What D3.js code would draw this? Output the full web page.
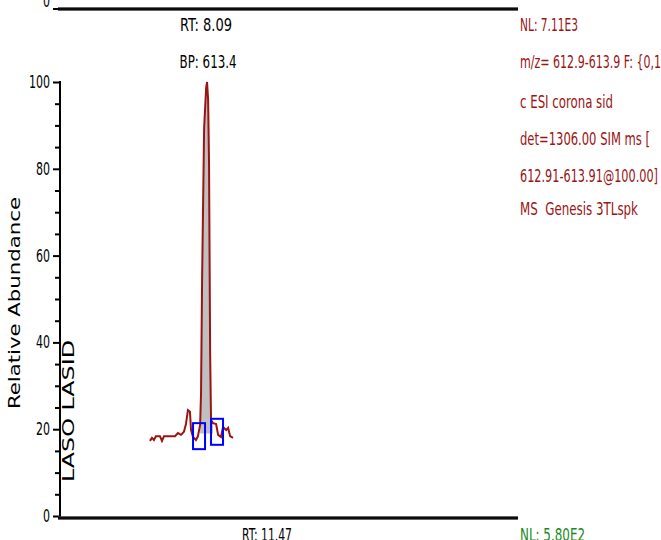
<!DOCTYPE html>
<html>
<head>
<meta charset="utf-8">
<script src="https://cdn.jsdelivr.net/npm/d3@7"></script>
<style>
  body { margin: 0; background: #fff; }
  text { font-family: "Liberation Sans Narrow", "Arial Narrow", "DejaVu Sans Condensed", sans-serif; white-space: pre; }
</style>
</head>
<body>
<div id="chart"></div>
<script>
// SIM trace, retention time in minutes and relative abundance in %
const rtMinutes = [4.95, 5.06, 5.17, 5.28, 5.50, 5.61, 5.72, 6.33, 6.49, 6.66, 6.82, 6.93, 7.04, 7.15, 7.21, 7.32, 7.48, 7.59,
                   7.71, 7.76, 7.82, 7.93, 8.04, 8.09, 8.15, 8.20, 8.26, 8.31, 8.42, 8.59, 8.70, 8.86, 8.97, 9.14, 9.25, 9.36, 9.52];
const abundance = [17.3, 18.0, 17.5, 18.4, 18.4, 17.3, 18.4, 18.4, 19.1, 18.7, 19.4, 21.2, 24.4, 24.0, 19.8, 18.2, 17.5, 18.4,
                   21.0, 28.3, 55.1, 89.4, 98.6, 100, 95.9, 81.3, 37.8, 22.1, 21.4, 21.2, 18.7, 18.2, 20.5, 19.8, 20.3, 18.4, 18.0];

// integrated peak
const peakRT = 8.09;
const peakBP = 613.4;
const peakArea = [7.62, 8.42];       // shaded range
const markerRT = [7.65, 8.64];       // start / end markers
const markerLevel = [18.4, 19.4];

const yTicks = [0, 20, 40, 60, 80, 100];
const yMinorTicks = d3.range(0, 101, 5);

const headerLines = ["NL: 7.11E3", "m/z= 612.9-613.9 F: {0,1", "c ESI corona sid",
                     "det=1306.00 SIM ms [", "612.91-613.91@100.00]", "MS  Genesis 3TLspk"];
const nextPanelRT = "RT: 11.47";
const nextPanelNL = "NL: 5.80E2";

const W = 661, H = 540;
const padL = 60, padR = 518, yBottom = 516, yTop = 82;
const red = "#9a1414";

const svg = d3.select("#chart").append("svg")
    .attr("width", W)
    .attr("height", H);

svg.append("rect").attr("width", W).attr("height", H).attr("fill", "#fff");

const x = d3.scaleLinear().domain([0, 25.2]).range([padL, padR]);
const y = d3.scaleLinear().domain([0, 100]).range([yBottom, yTop]);

const pts = rtMinutes.map((t, i) => ({ t: t, v: abundance[i] }));

// grey fill under the integrated peak
const areaPts = pts.filter(d => d.t >= peakArea[0] && d.t <= peakArea[1]);
svg.append("path")
    .datum(areaPts)
    .attr("fill", "#c0c0c0")
    .attr("d", d3.area().x(d => x(d.t)).y0(y(19)).y1(d => y(d.v)));

// trace
svg.append("path")
    .datum(pts)
    .attr("fill", "none")
    .attr("stroke", red)
    .attr("stroke-width", 2)
    .attr("d", d3.line().x(d => x(d.t)).y(d => y(d.v)));

// peak start / end markers
svg.selectAll("rect.marker")
    .data(markerRT)
    .enter()
    .append("rect")
    .attr("class", "marker")
    .attr("x", d => x(d) - 6)
    .attr("y", (d, i) => y(markerLevel[i]) - 13)
    .attr("width", 12)
    .attr("height", 26)
    .attr("fill", "none")
    .attr("stroke", "#0000ff")
    .attr("stroke-width", 2);

// y axis
const yAxis = d3.axisLeft(y).tickValues(yTicks).tickSize(7).tickPadding(3);
svg.append("g")
    .attr("transform", `translate(${padL},0)`)
    .call(yAxis)
    .call(g => g.select(".domain").remove())
    .call(g => g.selectAll("line").attr("stroke", "#000").attr("stroke-width", 2))
    .call(g => g.selectAll("text").attr("font-size", 17).attr("fill", "#000")
        .attr("textLength", d => String(d).length * 7)
        .attr("lengthAdjust", "spacingAndGlyphs"));

svg.append("g")
    .attr("transform", `translate(${padL},0)`)
    .call(d3.axisLeft(y).tickValues(yMinorTicks.filter(v => v % 20)).tickSize(5).tickFormat(""))
    .call(g => g.select(".domain").remove())
    .call(g => g.selectAll("line").attr("stroke", "#000").attr("stroke-width", 2));

svg.append("line")
    .attr("x1", padL).attr("x2", padL)
    .attr("y1", yTop - 1).attr("y2", yBottom + 2)
    .attr("stroke", "#000").attr("stroke-width", 2);

// bottom axis line and the previous panel's axis at the top
[yBottom + 2, 9].forEach(yy => {
    svg.append("line")
        .attr("x1", padL - 2).attr("x2", padR)
        .attr("y1", yy).attr("y2", yy)
        .attr("stroke", "#333").attr("stroke-width", 3.5);
    svg.append("line")
        .attr("x1", padL - 2).attr("x2", padR)
        .attr("y1", yy).attr("y2", yy)
        .attr("stroke", "#000").attr("stroke-width", 1.5);
});
svg.append("line")
    .attr("x1", padL - 7).attr("x2", padL)
    .attr("y1", 9).attr("y2", 9)
    .attr("stroke", "#000").attr("stroke-width", 2);
svg.append("text")
    .attr("x", 50).attr("y", 7)
    .attr("text-anchor", "end")
    .attr("font-size", 17)
    .attr("textLength", 7)
    .attr("lengthAdjust", "spacingAndGlyphs")
    .text("0");

// y label
svg.append("text")
    .attr("transform", "translate(20,303) rotate(-90)")
    .attr("text-anchor", "middle")
    .attr("font-size", 16)
    .attr("textLength", 212)
    .attr("lengthAdjust", "spacingAndGlyphs")
    .text("Relative Abundance");

svg.append("text")
    .attr("transform", "translate(74,482) rotate(-90)")
    .attr("font-size", 16)
    .attr("textLength", 142)
    .attr("lengthAdjust", "spacingAndGlyphs")
    .text("LASO LASID");

// peak annotation
svg.append("text")
    .attr("x", x(peakRT) - 1).attr("y", 31)
    .attr("text-anchor", "middle")
    .attr("font-size", 17)
    .attr("textLength", 52)
    .attr("lengthAdjust", "spacingAndGlyphs")
    .text("RT: " + peakRT.toFixed(2));
svg.append("text")
    .attr("x", x(peakRT) + 1).attr("y", 68)
    .attr("text-anchor", "middle")
    .attr("font-size", 17)
    .attr("textLength", 57)
    .attr("lengthAdjust", "spacingAndGlyphs")
    .text("BP: " + peakBP.toFixed(1));

// header on the right
const headerY = [31, 68, 108, 145, 182, 215];
const headerW = [58, 141, 93, 130, 138, 118];
svg.selectAll("text.header")
    .data(headerLines)
    .enter()
    .append("text")
    .attr("class", "header")
    .attr("x", padR + 2)
    .attr("y", (d, i) => headerY[i])
    .attr("font-size", 17)
    .attr("fill", red)
    .attr("textLength", (d, i) => headerW[i])
    .attr("lengthAdjust", "spacingAndGlyphs")
    .text(d => d);

// labels of the next panel, cut by the window
svg.append("text")
    .attr("x", 267).attr("y", 541)
    .attr("text-anchor", "middle")
    .attr("font-size", 17)
    .attr("textLength", 50)
    .attr("lengthAdjust", "spacingAndGlyphs")
    .text(nextPanelRT);
svg.append("text")
    .attr("x", padR + 2).attr("y", 541)
    .attr("font-size", 17)
    .attr("fill", "#1a8a1a")
    .attr("textLength", 65)
    .attr("lengthAdjust", "spacingAndGlyphs")
    .text(nextPanelNL);
</script>
</body>
</html>
